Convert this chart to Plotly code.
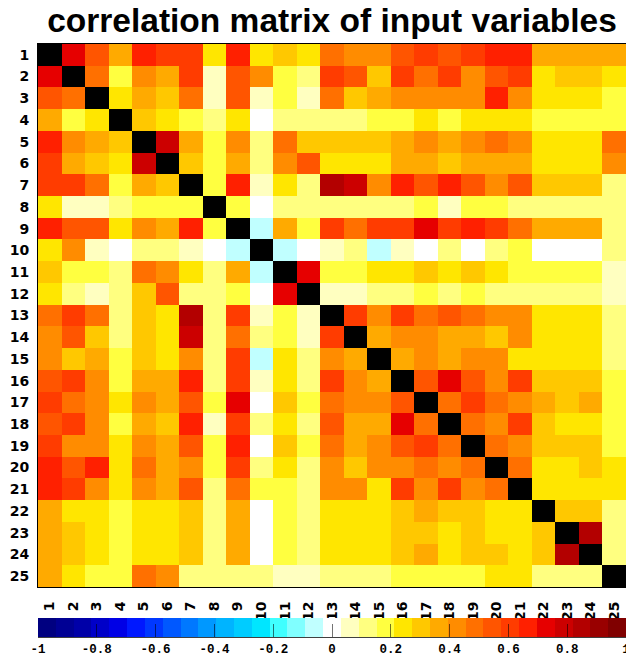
import plotly.graph_objects as go

labels = [str(i) for i in range(1, 26)]

row01 = [1.00, 0.73, 0.55, 0.36, 0.67, 0.61, 0.61, 0.24, 0.67, 0.24, 0.30, 0.24, 0.48, 0.42, 0.42, 0.55, 0.61, 0.55, 0.61, 0.67, 0.67, 0.36, 0.36, 0.36, 0.36]
row02 = [0.73, 1.00, 0.48, 0.18, 0.42, 0.36, 0.61, 0.06, 0.55, 0.42, 0.18, 0.12, 0.61, 0.55, 0.30, 0.61, 0.48, 0.61, 0.42, 0.55, 0.61, 0.24, 0.30, 0.30, 0.24]
row03 = [0.55, 0.48, 1.00, 0.24, 0.36, 0.30, 0.48, 0.06, 0.55, 0.06, 0.18, 0.06, 0.48, 0.30, 0.36, 0.42, 0.42, 0.42, 0.42, 0.67, 0.42, 0.24, 0.24, 0.24, 0.18]
row04 = [0.36, 0.18, 0.24, 1.00, 0.30, 0.24, 0.18, 0.12, 0.24, 0.00, 0.12, 0.12, 0.12, 0.12, 0.18, 0.18, 0.24, 0.18, 0.24, 0.24, 0.24, 0.18, 0.18, 0.18, 0.18]
row05 = [0.67, 0.42, 0.36, 0.30, 1.00, 0.79, 0.36, 0.18, 0.42, 0.12, 0.48, 0.30, 0.30, 0.30, 0.30, 0.36, 0.42, 0.36, 0.42, 0.48, 0.42, 0.24, 0.24, 0.24, 0.48]
row06 = [0.61, 0.36, 0.30, 0.24, 0.79, 1.00, 0.30, 0.18, 0.36, 0.12, 0.42, 0.55, 0.24, 0.24, 0.24, 0.36, 0.36, 0.30, 0.36, 0.36, 0.36, 0.24, 0.24, 0.24, 0.42]
row07 = [0.61, 0.61, 0.48, 0.18, 0.36, 0.30, 1.00, 0.18, 0.67, 0.06, 0.24, 0.12, 0.85, 0.79, 0.42, 0.67, 0.55, 0.67, 0.55, 0.42, 0.55, 0.30, 0.30, 0.30, 0.12]
row08 = [0.24, 0.06, 0.06, 0.12, 0.18, 0.18, 0.18, 1.00, 0.18, 0.00, 0.12, 0.12, 0.12, 0.12, 0.12, 0.12, 0.18, 0.06, 0.18, 0.18, 0.12, 0.12, 0.12, 0.12, 0.12]
row09 = [0.67, 0.55, 0.55, 0.24, 0.42, 0.36, 0.67, 0.18, 1.00, -0.06, 0.36, 0.18, 0.61, 0.48, 0.61, 0.61, 0.73, 0.61, 0.67, 0.61, 0.48, 0.36, 0.36, 0.36, 0.12]
row10 = [0.24, 0.42, 0.06, 0.00, 0.12, 0.12, 0.06, 0.00, -0.06, 1.00, -0.06, 0.00, 0.06, 0.12, -0.06, 0.06, 0.00, 0.12, 0.00, 0.12, 0.18, 0.00, 0.00, 0.00, 0.12]
row11 = [0.30, 0.18, 0.18, 0.12, 0.48, 0.42, 0.24, 0.12, 0.36, -0.06, 1.00, 0.73, 0.18, 0.18, 0.24, 0.24, 0.30, 0.24, 0.30, 0.24, 0.18, 0.18, 0.18, 0.18, 0.06]
row12 = [0.24, 0.12, 0.06, 0.12, 0.30, 0.55, 0.12, 0.12, 0.18, 0.00, 0.73, 1.00, 0.06, 0.06, 0.12, 0.12, 0.18, 0.12, 0.18, 0.12, 0.12, 0.12, 0.12, 0.12, 0.06]
row13 = [0.48, 0.61, 0.48, 0.12, 0.30, 0.24, 0.85, 0.12, 0.61, 0.06, 0.18, 0.06, 1.00, 0.61, 0.42, 0.61, 0.48, 0.55, 0.48, 0.42, 0.42, 0.24, 0.24, 0.24, 0.12]
row14 = [0.42, 0.55, 0.30, 0.12, 0.30, 0.24, 0.79, 0.12, 0.48, 0.12, 0.18, 0.06, 0.61, 1.00, 0.36, 0.42, 0.42, 0.36, 0.36, 0.30, 0.42, 0.24, 0.24, 0.24, 0.12]
row15 = [0.42, 0.30, 0.36, 0.18, 0.30, 0.24, 0.42, 0.12, 0.61, -0.06, 0.24, 0.12, 0.42, 0.36, 1.00, 0.36, 0.42, 0.36, 0.42, 0.42, 0.24, 0.24, 0.24, 0.24, 0.12]
row16 = [0.55, 0.61, 0.42, 0.18, 0.36, 0.36, 0.67, 0.12, 0.61, 0.06, 0.24, 0.12, 0.61, 0.42, 0.36, 1.00, 0.55, 0.73, 0.55, 0.42, 0.61, 0.30, 0.30, 0.30, 0.18]
row17 = [0.61, 0.48, 0.42, 0.24, 0.42, 0.36, 0.55, 0.18, 0.73, 0.00, 0.30, 0.18, 0.48, 0.42, 0.42, 0.55, 1.00, 0.48, 0.61, 0.48, 0.42, 0.36, 0.30, 0.36, 0.18]
row18 = [0.55, 0.61, 0.42, 0.18, 0.36, 0.30, 0.67, 0.06, 0.61, 0.12, 0.24, 0.12, 0.55, 0.36, 0.36, 0.73, 0.48, 1.00, 0.48, 0.42, 0.61, 0.30, 0.24, 0.24, 0.18]
row19 = [0.61, 0.42, 0.42, 0.24, 0.42, 0.36, 0.55, 0.18, 0.67, 0.00, 0.30, 0.18, 0.48, 0.36, 0.42, 0.55, 0.61, 0.48, 1.00, 0.48, 0.42, 0.30, 0.30, 0.30, 0.18]
row20 = [0.67, 0.55, 0.67, 0.24, 0.48, 0.36, 0.42, 0.18, 0.61, 0.12, 0.24, 0.12, 0.42, 0.30, 0.42, 0.42, 0.48, 0.42, 0.48, 1.00, 0.48, 0.24, 0.24, 0.30, 0.24]
row21 = [0.67, 0.61, 0.42, 0.24, 0.42, 0.36, 0.55, 0.12, 0.48, 0.18, 0.18, 0.12, 0.42, 0.42, 0.24, 0.61, 0.42, 0.61, 0.42, 0.48, 1.00, 0.24, 0.24, 0.24, 0.24]
row22 = [0.36, 0.24, 0.24, 0.18, 0.24, 0.24, 0.30, 0.12, 0.36, 0.00, 0.18, 0.12, 0.24, 0.24, 0.24, 0.30, 0.36, 0.30, 0.30, 0.24, 0.24, 1.00, 0.30, 0.30, 0.12]
row23 = [0.36, 0.30, 0.24, 0.18, 0.24, 0.24, 0.30, 0.12, 0.36, 0.00, 0.18, 0.12, 0.24, 0.24, 0.24, 0.30, 0.30, 0.24, 0.30, 0.24, 0.24, 0.30, 1.00, 0.85, 0.12]
row24 = [0.36, 0.30, 0.24, 0.18, 0.24, 0.24, 0.30, 0.12, 0.36, 0.00, 0.18, 0.12, 0.24, 0.24, 0.24, 0.30, 0.36, 0.24, 0.30, 0.30, 0.24, 0.30, 0.85, 1.00, 0.12]
row25 = [0.36, 0.24, 0.18, 0.18, 0.48, 0.42, 0.12, 0.12, 0.12, 0.12, 0.06, 0.06, 0.12, 0.12, 0.12, 0.18, 0.18, 0.18, 0.18, 0.24, 0.24, 0.12, 0.12, 0.12, 1.00]

colorbar_ticks = [-1, -0.8, -0.6, -0.4, -0.2, 0, 0.2, 0.4, 0.6, 0.8, 1]
colorbar_ticktext = ["-1", "-0.8", "-0.6", "-0.4", "-0.2", "0", "0.2", "0.4", "0.6", "0.8", "1"]

palette = [
    "#000080", "#000094", "#0000A8", "#0000C8", "#0000E6", "#0018FF", "#0038FF", "#0058FF",
    "#0078FF", "#0098FF", "#00B4FF", "#00CCFF", "#00E6FF", "#40FFFF", "#80FFFF", "#C0FFFF",
    "#FFFFFF",
    "#FFFFC0", "#FFFF80", "#FFFF40", "#FFE600", "#FFC800", "#FFAA00", "#FF8C00", "#FF7000",
    "#FF5500", "#FF3C00", "#FF2000", "#E60000", "#CC0000", "#B30000", "#990000", "#800000",
]

corr = [row01, row02, row03, row04, row05, row06, row07, row08, row09, row10,
        row11, row12, row13, row14, row15, row16, row17, row18, row19, row20,
        row21, row22, row23, row24, row25]

n = len(palette)
colorscale = []
for k, c in enumerate(palette):
    colorscale.append([k / n, c])
    colorscale.append([(k + 1) / n, c])

xs = list(range(1, 26))
ys = list(range(1, 26))

diag = [[(v if i == j else None) for j, v in enumerate(r)] for i, r in enumerate(corr)]

W, H = 626, 657
ml, mr, mt, mb = 38, 0, 44, 0
plot_bottom = 587.0
paper_h = H - mt - mb
cb_top, cb_bot = 618.0, 637.0


def py(ypix):
    return (H - mb - ypix) / paper_h


fig = go.Figure()
fig.add_trace(go.Heatmap(
    z=corr, x=xs, y=ys, zmin=-1, zmax=1, colorscale=colorscale,
    hoverinfo="skip",
    colorbar=dict(
        orientation="h", thickness=cb_bot - cb_top, len=1, lenmode="fraction",
        x=0.5, xanchor="center", y=py(cb_top), yanchor="top",
        xpad=0, ypad=0, outlinewidth=0,
        tickvals=colorbar_ticks, ticktext=colorbar_ticktext,
        ticks="inside", ticklen=13, tickwidth=1, tickcolor="rgba(0,0,0,0.55)",
        ticklabeloverflow="allow",
        tickfont=dict(family="Liberation Mono", size=12.5, color="black", weight="bold"),
    ),
))
fig.add_trace(go.Heatmap(
    z=diag, x=xs, y=ys, zmin=0, zmax=1,
    colorscale=[[0, "black"], [1, "black"]], showscale=False, hoverinfo="skip",
))

fig.add_shape(type="line", xref="paper", yref="paper", x0=0, x1=1,
              y0=py(cb_bot), y1=py(cb_bot),
              line=dict(color="black", width=1.5))

axfont = dict(family="DejaVu Sans", size=14, color="black", weight="bold")
fig.update_layout(
    template="none",
    width=W, height=H,
    margin=dict(l=ml, r=mr, t=mt, b=mb, autoexpand=False),
    paper_bgcolor="white", plot_bgcolor="white",
    title=dict(text="<b>correlation matrix of input variables</b>",
               font=dict(family="Liberation Sans", size=33.5, color="black"),
               x=0.5, xref="paper", xanchor="center",
               y=1 - 20 / H, yref="container", yanchor="middle"),
    xaxis=dict(tickvals=xs, ticktext=labels, tickangle=-90, range=[0.5, 25.5],
               showgrid=False, zeroline=False, showline=True, linecolor="black",
               linewidth=1, mirror=True, ticks="outside", ticklen=8,
               tickcolor="rgba(0,0,0,0)", tickfont=axfont, automargin=False),
    yaxis=dict(tickvals=ys, ticktext=labels, range=[25.5, 0.5],
               domain=[py(plot_bottom), 1],
               showgrid=False, zeroline=False, showline=True, linecolor="black",
               linewidth=1, mirror=True, ticks="outside", ticklen=5,
               tickcolor="rgba(0,0,0,0)", tickfont=axfont, automargin=False),
)

fig.write_html("out.html")
